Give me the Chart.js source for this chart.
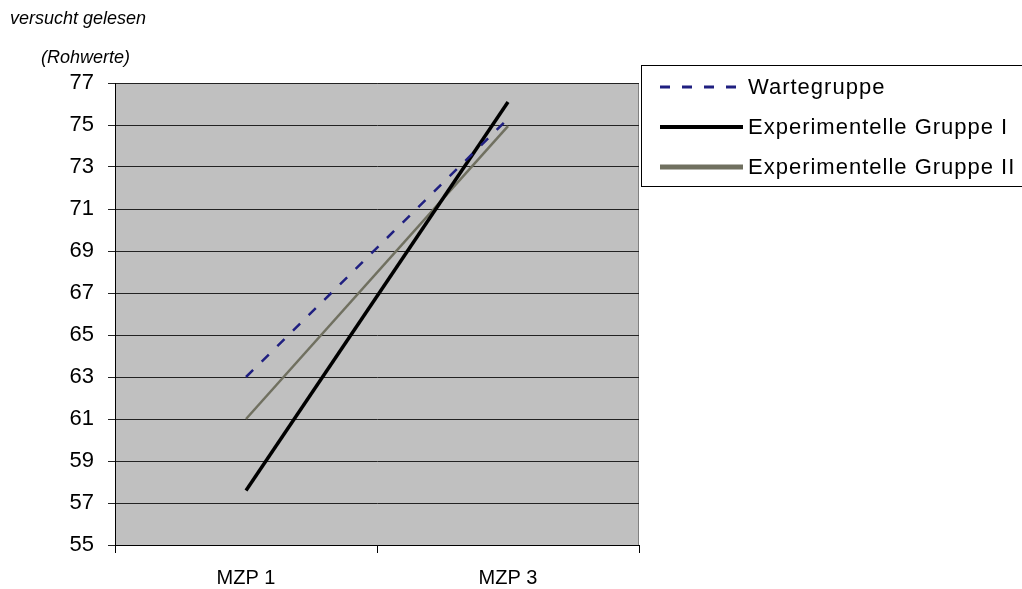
<!DOCTYPE html>
<html>
<head>
<meta charset="utf-8">
<script src="https://cdn.jsdelivr.net/npm/chart.js@4"></script>
<style>
  body { margin: 0; background: #fff; }
  #wrap { width: 1022px; height: 589px; }
</style>
</head>
<body>
<div id="wrap"><canvas id="chart" width="1022" height="589"></canvas></div>
<script>
const categories = ['MZP 1', 'MZP 3'];
const wartegruppe = [63.0, 75.3];
const gruppeI = [57.6, 76.1];
const gruppeII = [61.0, 74.95];
const yMin = 55;
const yMax = 77;
const yStep = 2;

const FONT = '"Liberation Sans", Arial, sans-serif';

// grey plot background plus frame
const plotBackground = {
    id: 'plotBackground',
    beforeDraw(chart) {
        const { ctx, chartArea: a } = chart;
        ctx.save();
        ctx.fillStyle = '#c0c0c0';
        ctx.fillRect(a.left, a.top, a.right - a.left, a.bottom - a.top);
        ctx.strokeStyle = '#808080';
        ctx.lineWidth = 1;
        ctx.strokeRect(a.left + 0.5, a.top + 0.5, a.right - a.left - 1, a.bottom - a.top);
        ctx.restore();
    }
};

// axis caption at top left
const axisCaption = {
    id: 'axisCaption',
    afterDraw(chart) {
        const ctx = chart.ctx;
        ctx.save();
        ctx.fillStyle = '#000';
        ctx.font = 'italic 18px ' + FONT;
        ctx.textBaseline = 'alphabetic';
        ctx.textAlign = 'left';
        ctx.fillText('versucht gelesen', 10, 24);
        ctx.fillText('(Rohwerte)', 41, 63);
        ctx.restore();
    }
};

// boxed legend on the right, Excel style
const boxLegend = {
    id: 'boxLegend',
    afterDraw(chart) {
        const ctx = chart.ctx;
        const x0 = 641, y0 = 65, w = 400, h = 121;
        ctx.save();
        ctx.strokeStyle = '#000';
        ctx.lineWidth = 1;
        ctx.strokeRect(x0 + 0.5, y0 + 0.5, w, h);
        const widths = [3, 4, 5];
        chart.data.datasets.forEach((ds, i) => {
            const y = y0 + 22 + i * 40;
            ctx.beginPath();
            ctx.strokeStyle = ds.borderColor;
            ctx.lineWidth = widths[i];
            ctx.setLineDash(ds.borderDash || []);
            ctx.moveTo(660, y);
            ctx.lineTo(743, y);
            ctx.stroke();
            ctx.setLineDash([]);
            ctx.fillStyle = '#000';
            ctx.font = '22px ' + FONT;
            ctx.letterSpacing = '1px';
            ctx.textBaseline = 'middle';
            ctx.textAlign = 'left';
            ctx.fillText(ds.label, 748, y + 1);
        });
        ctx.restore();
    }
};

new Chart(document.getElementById('chart'), {
    type: 'line',
    data: {
        labels: categories,
        datasets: [
            {
                label: 'Wartegruppe',
                data: wartegruppe,
                borderColor: '#1f1f80',
                borderWidth: 2.5,
                borderDash: [10, 12],
                pointRadius: 0,
                tension: 0
            },
            {
                label: 'Experimentelle Gruppe I',
                data: gruppeI,
                borderColor: '#000000',
                borderWidth: 3.5,
                pointRadius: 0,
                tension: 0
            },
            {
                label: 'Experimentelle Gruppe II',
                data: gruppeII,
                borderColor: '#707060',
                borderWidth: 2.5,
                pointRadius: 0,
                tension: 0
            }
        ]
    },
    options: {
        responsive: false,
        animation: false,
        layout: { padding: { left: 0, top: 83, right: 383, bottom: 0 } },
        plugins: {
            legend: { display: false },
            tooltip: { enabled: false }
        },
        scales: {
            x: {
                offset: true,
                grid: {
                    offset: true,
                    drawOnChartArea: false,
                    drawTicks: true,
                    tickLength: 8,
                    color: '#000'
                },
                border: { color: '#000', width: 1 },
                ticks: {
                    color: '#000',
                    font: { family: FONT, size: 20 },
                    padding: 13,
                    maxRotation: 0
                },
                afterFit(scale) { scale.height = 44; }
            },
            y: {
                min: yMin,
                max: yMax,
                grid: {
                    color: '#222',
                    lineWidth: 1,
                    tickLength: 7
                },
                border: { color: '#000', width: 1 },
                ticks: {
                    stepSize: yStep,
                    color: '#000',
                    font: { family: FONT, size: 22 },
                    padding: 14
                },
                afterFit(scale) { scale.width = 115; }
            }
        }
    },
    plugins: [plotBackground, axisCaption, boxLegend]
});
</script>
</body>
</html>
